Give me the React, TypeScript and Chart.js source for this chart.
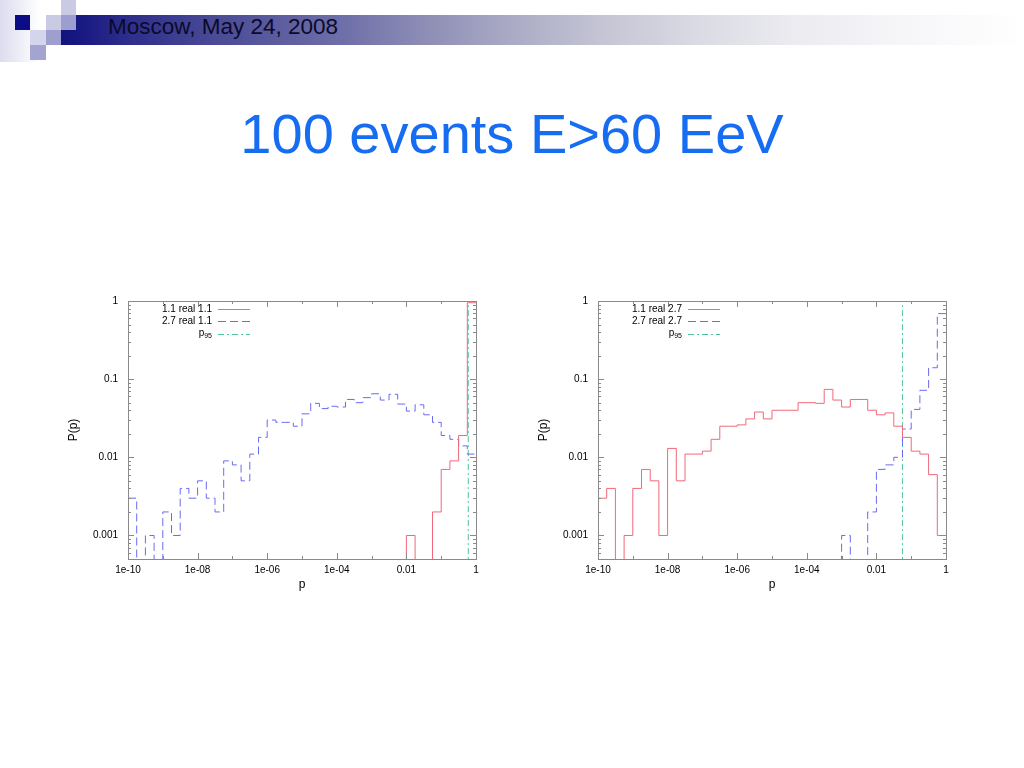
import React, { useEffect, useRef } from "react";
import { Chart, registerables } from "chart.js";

Chart.register(...registerables);

// ---------- data ----------
// log10 of the bin edges (0.25-decade bins from 1e-10 to 1)
const binLog10 = [
  -10, -9.75, -9.5, -9.25, -9, -8.75, -8.5, -8.25, -8, -7.75, -7.5, -7.25, -7, -6.75,
  -6.5, -6.25, -6, -5.75, -5.5, -5.25, -5, -4.75, -4.5, -4.25, -4, -3.75, -3.5, -3.25,
  -3, -2.75, -2.5, -2.25, -2, -1.75, -1.5, -1.25, -1, -0.75, -0.5, -0.25, 0,
];

// left panel: real 1.1
const left11 = [
  0, 0, 0, 0, 0, 0, 0, 0, 0, 0, 0, 0, 0, 0, 0, 0, 0, 0, 0, 0,
  0, 0, 0, 0, 0, 0, 0, 0, 0, 0, 0, 0, 0.001, 0, 0, 0.002, 0.007, 0.009, 0.019, 0.95,
];
const left27 = [
  0.003, 0, 0.001, 0, 0.002, 0.001, 0.004, 0.003, 0.005, 0.003, 0.002, 0.009, 0.008, 0.005,
  0.011, 0.018, 0.03, 0.028, 0.028, 0.025, 0.036, 0.049, 0.042, 0.045, 0.044, 0.055, 0.05,
  0.058, 0.065, 0.054, 0.064, 0.048, 0.039, 0.047, 0.035, 0.028, 0.019, 0.017, 0.014, 0.011,
];
const leftP95 = 0.6;

// right panel: real 2.7
const right11 = [
  0.003, 0.004, 0, 0.001, 0.004, 0.007, 0.005, 0.001, 0.013, 0.005, 0.011, 0.011, 0.012, 0.017,
  0.025, 0.025, 0.026, 0.031, 0.038, 0.031, 0.04, 0.04, 0.04, 0.05, 0.05, 0.049, 0.074, 0.054,
  0.044, 0.055, 0.055, 0.04, 0.035, 0.037, 0.025, 0.018, 0.012, 0.011, 0.006, 0.001,
];
const right27 = [
  0, 0, 0, 0, 0, 0, 0, 0, 0, 0, 0, 0, 0, 0, 0, 0, 0, 0, 0, 0,
  0, 0, 0, 0, 0, 0, 0, 0, 0.001, 0, 0, 0.002, 0.007, 0.008, 0.01, 0.023, 0.041, 0.072, 0.14, 0.69,
];
const rightP95 = 0.056;

const leftNames = ["1.1 real 1.1", "2.7 real 1.1"];
const rightNames = ["1.1 real 2.7", "2.7 real 2.7"];
const p95Base = "p";
const p95Sub = "95";

const xTickValues = [1e-10, 1e-8, 1e-6, 1e-4, 1e-2, 1];
const xTickLabels = ["1e-10", "1e-08", "1e-06", "1e-04", "0.01", "1"];
const yTickValues = [0.001, 0.01, 0.1, 1];
const yTickLabels = ["0.001", "0.01", "0.1", "1"];

const X_MIN = 1e-10;
const X_MAX = 1;
const Y_MIN = 5e-4;
const Y_MAX = 1;
const FLOOR = 1e-7; // empty bins are drawn below the axis floor

const headerText = "Moscow, May 24, 2008";
const titleText = "100 events E>60 EeV";

// ---------- styles ----------
const FONT = '"Liberation Sans", Arial, Helvetica, sans-serif';
const RED = "#f0687a";
const BLUE = "#6a6af2";
const GREEN = "#4cc49a";
const FRAME = "#8a8a8a";

const stepPoints = (vals: number[]) => {
  const pts = vals.map((v, k) => ({ x: Math.pow(10, binLog10[k]), y: v > 0 ? v : FLOOR }));
  const last = vals[vals.length - 1];
  pts.push({ x: Math.pow(10, binLog10[vals.length]), y: last > 0 ? last : FLOOR });
  return pts;
};

const framePlugin = {
  id: "gnuFrame",
  afterDatasetsDraw(chart: any) {
    const { ctx, chartArea: a, scales } = chart;
    const xs = scales.x;
    const ys = scales.y;
    const snap = (v: number) => Math.round(v) + 0.5;
    ctx.save();
    ctx.strokeStyle = FRAME;
    ctx.lineWidth = 1;
    ctx.setLineDash([]);
    ctx.beginPath();
    const e0 = Math.ceil(Math.log10(xs.min) - 1e-9);
    const e1 = Math.floor(Math.log10(xs.max) + 1e-9);
    for (let e = e0; e <= e1; e++) {
      const px = snap(xs.getPixelForValue(Math.pow(10, e)));
      const len = e % 2 === 0 ? 6 : 3;
      ctx.moveTo(px, a.bottom);
      ctx.lineTo(px, a.bottom - len);
      ctx.moveTo(px, a.top);
      ctx.lineTo(px, a.top + len);
    }
    const f0 = Math.floor(Math.log10(ys.min));
    const f1 = Math.ceil(Math.log10(ys.max));
    for (let e = f0; e <= f1; e++) {
      for (let m = 1; m <= 9; m++) {
        const v = m * Math.pow(10, e);
        if (v < ys.min * 0.999 || v > ys.max * 1.001) continue;
        const py = snap(ys.getPixelForValue(v));
        const len = m === 1 ? 6 : 3;
        ctx.moveTo(a.left, py);
        ctx.lineTo(a.left + len, py);
        ctx.moveTo(a.right, py);
        ctx.lineTo(a.right - len, py);
      }
    }
    ctx.stroke();
    ctx.strokeRect(snap(a.left), snap(a.top), Math.round(a.right - a.left), Math.round(a.bottom - a.top));
    ctx.restore();
  },
};

const LEGEND_TOP = 8;
const LEGEND_ROW = 12.3;
const LEGEND_TEXT_RIGHT = 84;
const LEGEND_LINE_FROM = 90;
const LEGEND_LINE_TO = 122;

const legendPlugin = {
  id: "gnuLegend",
  afterDatasetsDraw(chart: any) {
    const { ctx, chartArea: a } = chart;
    ctx.save();
    chart.data.datasets.forEach((ds: any, i: number) => {
      const y = a.top + LEGEND_TOP + i * LEGEND_ROW;
      const right = a.left + LEGEND_TEXT_RIGHT;
      ctx.fillStyle = "#000";
      ctx.textBaseline = "middle";
      ctx.textAlign = "right";
      if (ds.legendSub) {
        ctx.font = `7px ${FONT}`;
        ctx.fillText(ds.legendSub, right, y + 2.5);
        const w = ctx.measureText(ds.legendSub).width;
        ctx.font = `10px ${FONT}`;
        ctx.fillText(ds.legendBase, right - w, y);
      } else {
        ctx.font = `10px ${FONT}`;
        ctx.fillText(ds.label, right, y);
      }
      ctx.strokeStyle = ds.borderColor;
      ctx.lineWidth = 1;
      ctx.setLineDash(ds.borderDash || []);
      ctx.beginPath();
      const yy = Math.round(y) + 0.5;
      ctx.moveTo(a.left + LEGEND_LINE_FROM, yy);
      ctx.lineTo(a.left + LEGEND_LINE_TO, yy);
      ctx.stroke();
    });
    ctx.restore();
  },
};

type PanelProps = {
  left: number;
  top: number;
  names: string[];
  s11: number[];
  s27: number[];
  p95: number;
};

function HistPanel({ left, top, names, s11, s27, p95 }: PanelProps) {
  const ref = useRef<HTMLCanvasElement>(null);
  useEffect(() => {
    const chart = new Chart(ref.current as HTMLCanvasElement, {
      type: "line",
      data: {
        datasets: [
          {
            label: names[0],
            data: stepPoints(s11),
            borderColor: RED,
            borderWidth: 1,
            stepped: "before",
            pointRadius: 0,
            fill: false,
          },
          {
            label: names[1],
            data: stepPoints(s27),
            borderColor: BLUE,
            borderWidth: 1,
            borderDash: [8, 4],
            stepped: "before",
            pointRadius: 0,
            fill: false,
          },
          {
            label: p95Base + p95Sub,
            legendBase: p95Base,
            legendSub: p95Sub,
            data: [
              { x: p95, y: FLOOR },
              { x: p95, y: 10 },
            ],
            borderColor: GREEN,
            borderWidth: 1,
            borderDash: [6, 3, 2, 3],
            pointRadius: 0,
            fill: false,
          } as any,
        ],
      },
      options: {
        responsive: false,
        devicePixelRatio: 1,
        animation: false,
        layout: { padding: { left: 0, right: 14, top: 6, bottom: 0 } },
        plugins: { legend: { display: false }, tooltip: { enabled: false } },
        scales: {
          x: {
            type: "logarithmic",
            min: X_MIN,
            max: X_MAX,
            grid: { display: false, drawTicks: false },
            border: { display: false },
            afterBuildTicks: (s: any) => {
              s.ticks = xTickValues.map((v) => ({ value: v }));
            },
            afterFit: (s: any) => {
              s.height = 41;
            },
            ticks: {
              autoSkip: false,
              maxRotation: 0,
              padding: 5,
              color: "#000",
              font: { family: FONT, size: 10 },
              callback: (_v: any, i: number) => xTickLabels[i],
            },
            title: {
              display: true,
              text: "p",
              color: "#000",
              font: { family: FONT, size: 12 },
              padding: { top: 0, bottom: 8 },
            },
          },
          y: {
            type: "logarithmic",
            min: Y_MIN,
            max: Y_MAX,
            grid: { display: false, drawTicks: false },
            border: { display: false },
            afterBuildTicks: (s: any) => {
              s.ticks = yTickValues.map((v) => ({ value: v }));
            },
            afterFit: (s: any) => {
              s.width = 68;
            },
            ticks: {
              autoSkip: false,
              padding: 10,
              color: "#000",
              font: { family: FONT, size: 10 },
              callback: (_v: any, i: number) => yTickLabels[i],
            },
            title: {
              display: true,
              text: "P(p)",
              color: "#000",
              font: { family: FONT, size: 12 },
              padding: { top: 6, bottom: 0 },
            },
          },
        },
      },
      plugins: [framePlugin, legendPlugin],
    } as any);
    return () => chart.destroy();
  }, []);
  return (
    <canvas
      ref={ref}
      width={430}
      height={315}
      style={{ position: "absolute", left, top, width: 430, height: 315 }}
    />
  );
}

const sq = (left: number, top: number, w: number, h: number, bg: string) => (
  <div style={{ position: "absolute", left, top, width: w, height: h, background: bg }} />
);

export default function App() {
  return (
    <div
      style={{
        position: "absolute",
        left: 0,
        top: 0,
        width: 1024,
        height: 768,
        background: "#ffffff",
        overflow: "hidden",
        fontFamily: FONT,
      }}
    >
      <div
        style={{
          position: "absolute",
          left: 0,
          top: 0,
          width: 40,
          height: 62,
          background: "linear-gradient(to right, rgba(205,205,232,0.7), rgba(255,255,255,0))",
        }}
      />
      <div
        style={{
          position: "absolute",
          left: 61,
          top: 15,
          width: 963,
          height: 30,
          background:
            "linear-gradient(to right, #131380 0%, #1c1c84 3%, #2a2a8a 6%, #4a4a96 16%, #6e6ea8 29%, #8e8eb6 38%, #a8a8c4 46%, #c4c4d4 56%, #dadae4 66%, #ebebf0 76%, #f5f5f8 86%, #fcfcfd 96%, #ffffff 100%)",
        }}
      />
      {sq(15, 15, 15, 15, "#0c0c86")}
      {sq(46, 15, 15, 15, "#cacae4")}
      {sq(61, 15, 15, 15, "#9d9dcf")}
      {sq(61, 0, 15, 15, "#cacae4")}
      {sq(30, 30, 16, 15, "#d4d4ec")}
      {sq(46, 30, 15, 15, "#9e9ecf")}
      {sq(30, 45, 16, 15, "#a4a4d2")}
      <div
        style={{
          position: "absolute",
          left: 108,
          top: 16,
          fontSize: 22.5,
          lineHeight: "22px",
          color: "#0a0a2a",
          whiteSpace: "nowrap",
        }}
      >
        {headerText}
      </div>
      <div
        style={{
          position: "absolute",
          left: 0,
          top: 106,
          width: 1024,
          textAlign: "center",
          fontSize: 56,
          lineHeight: "56px",
          color: "#166df2",
          whiteSpace: "nowrap",
        }}
      >
        {titleText}
      </div>
      <HistPanel left={60} top={285} names={leftNames} s11={left11} s27={left27} p95={leftP95} />
      <HistPanel left={530} top={285} names={rightNames} s11={right11} s27={right27} p95={rightP95} />
    </div>
  );
}
